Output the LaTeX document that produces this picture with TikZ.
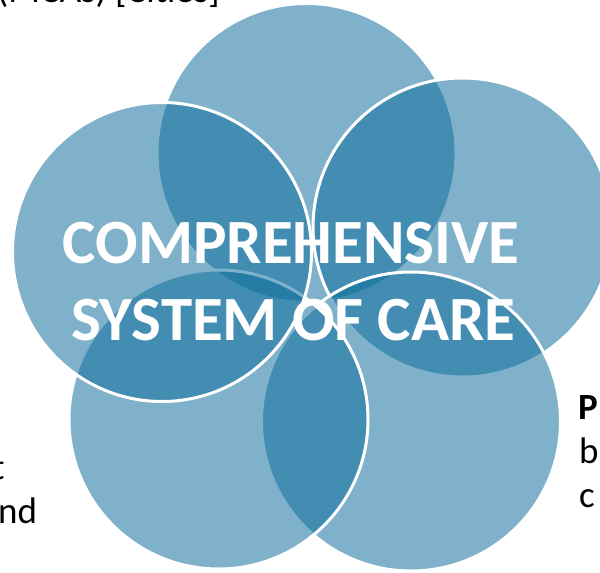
\documentclass[tikz,border=0pt]{standalone}
\usepackage{fontspec}
\setmainfont{Carlito}
\definecolor{venn}{RGB}{10,108,154}
\begin{document}
\begin{tikzpicture}[x=1pt,y=-1pt,
  petal/.style={fill=venn, fill opacity=0.52},
  rim/.style={draw=white, line width=3pt},
  side/.style={font=\fontsize{37}{44}\selectfont, text=black, inner sep=0pt, anchor=base west},
  title/.style={font=\fontsize{63}{77}\selectfont\bfseries, text=white, inner sep=0pt, anchor=base}]
\useasboundingbox (0,0) rectangle (600,573);
\clip (0,0) rectangle (600,573);
\coordinate (cT) at (306.5,153);
\coordinate (cR) at (462.5,227.5);
\coordinate (cBR) at (411,421.5);
\coordinate (cBL) at (218.5,419.5);
\coordinate (cL) at (162,252);
\foreach \c in {cT,cR,cBR,cBL,cL}{
  \fill[petal] (\c) circle[radius=149.5pt];
  \draw[rim] (\c) circle[radius=149.5pt];
}
\node[title] (t1) at (291,263) {COMPREHENSIVE};
\node[title] (t2) at (293.5,340) {SYSTEM OF CARE};
\node[side] (topline) at (-3,2) {(MCAs) [Cities]};
\node[side] (lt) at (-8,479) {t};
\node[side] (lnd) at (-2,523) {nd};
\node[side, font=\fontsize{37}{44}\selectfont\bfseries] (rp) at (578,419) {P};
\node[side] (rb) at (579,463) {b};
\node[side] (rc) at (579,507) {c};
\end{tikzpicture}
\end{document}
